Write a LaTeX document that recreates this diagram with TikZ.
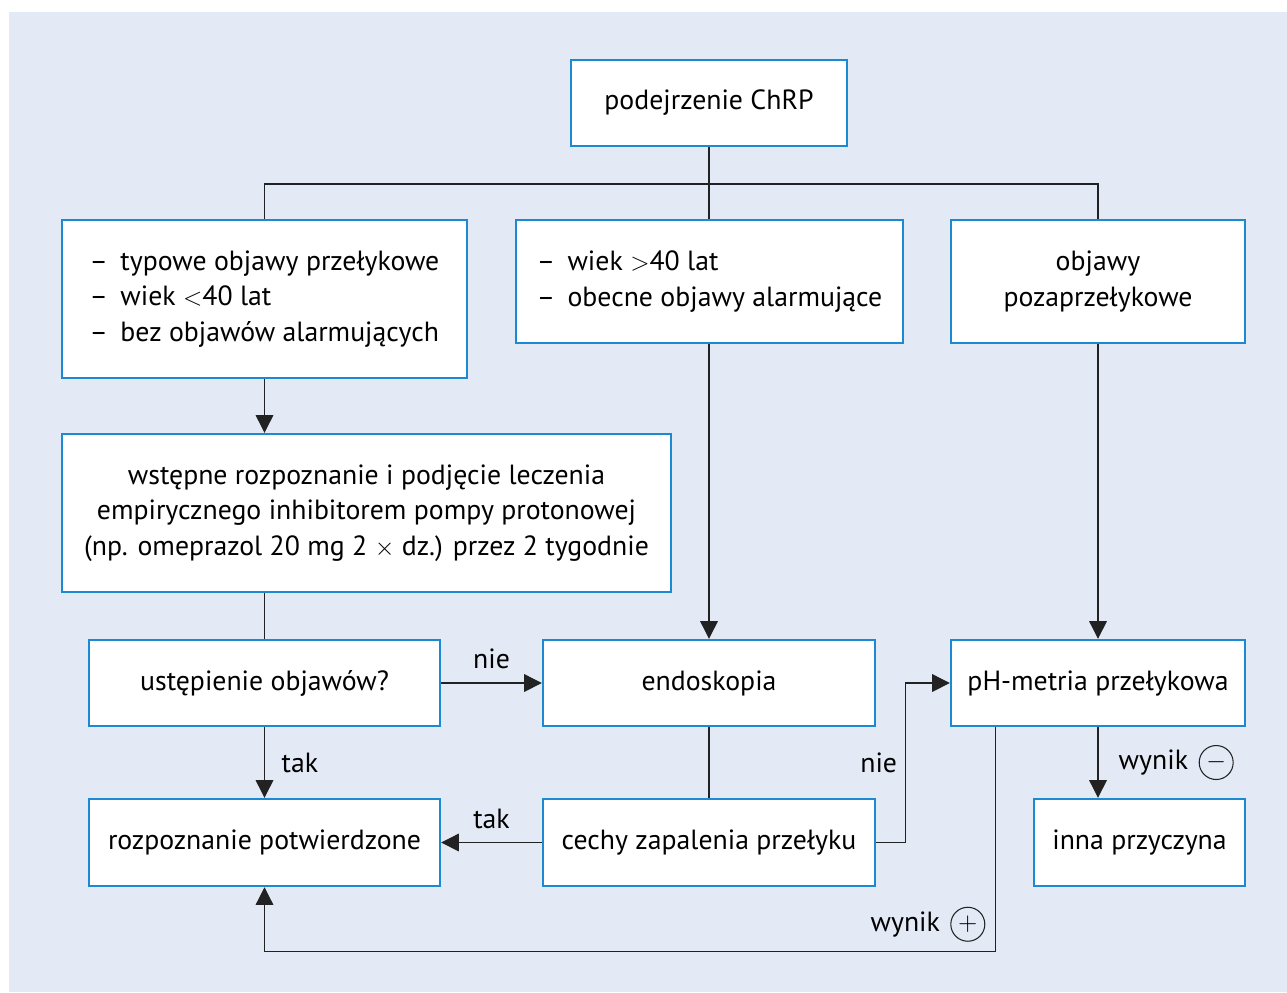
\documentclass[tikz,border=0pt]{standalone}
\usepackage{fontspec}
\setmainfont{PT Sans}
\usetikzlibrary{positioning, arrows.meta}
\definecolor{tlo}{HTML}{E3EAF6}
\definecolor{ramka}{HTML}{1B8AD3}
\definecolor{linia}{HTML}{222222}

\begin{document}
\begin{tikzpicture}[
        x=0.02cm, y=-0.02cm,
        box/.style={rectangle, draw=ramka, line width=1.4pt, fill=white, align=center, inner sep=0pt, font=\fontsize{15.8}{20.2}\selectfont},
        lbl/.style={inner sep=2pt, font=\fontsize{15.8}{20.2}\selectfont},
        sign/.style={circle, draw=linia, line width=0.6pt, minimum size=0.68cm, inner sep=0pt, font=\fontsize{15.8}{20.2}\selectfont},
        line/.style={draw=linia, line width=0.7pt},
        arrow/.style={line, -{Triangle[length=10pt, width=10pt]}}
    ]

        % Tło
        \useasboundingbox (0,0) rectangle (1287,992);
        \fill[tlo] (9,12) rectangle (1287,992);

        % Węzły
        \node[box, minimum width=5.52cm, minimum height=1.72cm] (podejrzenie) at (709,103) {podejrzenie ChRP};
        \node[box, align=left, minimum width=8.1cm, minimum height=3.16cm] (typowe) at (264.5,299) {\textendash\hspace{0.45em}typowe objawy przełykowe\\ \textendash\hspace{0.45em}wiek $<$40 lat\\ \textendash\hspace{0.45em}bez objawów alarmujących};
        \node[box, align=left, minimum width=7.74cm, minimum height=2.46cm] (alarm) at (709.5,281.5) {\textendash\hspace{0.45em}wiek $>$40 lat\\ \textendash\hspace{0.45em}obecne objawy alarmujące};
        \node[box, minimum width=5.88cm, minimum height=2.46cm] (poza) at (1098,281.5) {objawy\\ pozaprzełykowe};
        \node[box, minimum width=12.18cm, minimum height=3.16cm] (leczenie) at (366.5,513) {wstępne rozpoznanie i podjęcie leczenia\\ empirycznego inhibitorem pompy protonowej\\ (np. omeprazol 20 mg 2 $\times$ dz.) przez 2 tygodnie};
        \node[box, minimum width=7.02cm, minimum height=1.72cm] (ustepienie) at (264.5,683) {ustępienie objawów?};
        \node[box, minimum width=6.64cm, minimum height=1.72cm] (endoskopia) at (709,683) {endoskopia};
        \node[box, minimum width=5.88cm, minimum height=1.72cm] (phmetria) at (1098,683) {pH-metria przełykowa};
        \node[box, minimum width=7.02cm, minimum height=1.74cm] (potwierdzone) at (264.5,842.5) {rozpoznanie potwierdzone};
        \node[box, minimum width=6.64cm, minimum height=1.74cm] (zapalenie) at (709,842.5) {cechy zapalenia przełyku};
        \node[box, minimum width=4.22cm, minimum height=1.74cm] (inna) at (1139.5,842.5) {inna przyczyna};
        \coordinate (szyna) at (709,184);

        % Połączenia
        \draw[line] (podejrzenie.south) -- (podejrzenie.south |- alarm.north);
        \draw[line] (typowe.north) |- (szyna) -| (poza.north);
        \draw[arrow] (typowe.south) -- (typowe.south |- leczenie.north);
        \draw[line] (ustepienie.north |- leczenie.south) -- (ustepienie.north);
        \draw[arrow] (alarm.south -| endoskopia.north) -- (endoskopia.north);
        \draw[arrow] (poza.south) -- (phmetria.north);
        \draw[arrow] (ustepienie.east) -- node[lbl, above=0.27cm, inner sep=0pt] {nie} (endoskopia.west);
        \draw[arrow] (ustepienie.south) -- node[lbl, right=0.33cm, inner sep=0pt] {tak} (potwierdzone.north);
        \draw[line] (endoskopia.south) -- (zapalenie.north);
        \draw[arrow] (zapalenie.west) -- node[lbl, above=0.27cm, inner sep=0pt] {tak} (potwierdzone.east);
        \draw[arrow] (zapalenie.east) -- ++(29,0) |- node[lbl, pos=0.25, left=0.15cm, inner sep=0pt] {nie} (phmetria.west);
        \draw[arrow] (phmetria.south) -- node[lbl, midway, right=0.4cm, inner sep=0pt] (wminus) {wynik} (phmetria.south |- inna.north);
        \node[sign, right=0.2cm of wminus] {$-$};
        \draw[arrow] ([xshift=0.92cm]phmetria.south west) -- ++(0,224) coordinate (kat) -| (potwierdzone.south);
        \node[sign] (plus) at ([xshift=-0.56cm, yshift=0.54cm]kat) {$+$};
        \node[lbl, left=0.2cm of plus, inner sep=0pt] {wynik};

    \end{tikzpicture}
\end{document}
